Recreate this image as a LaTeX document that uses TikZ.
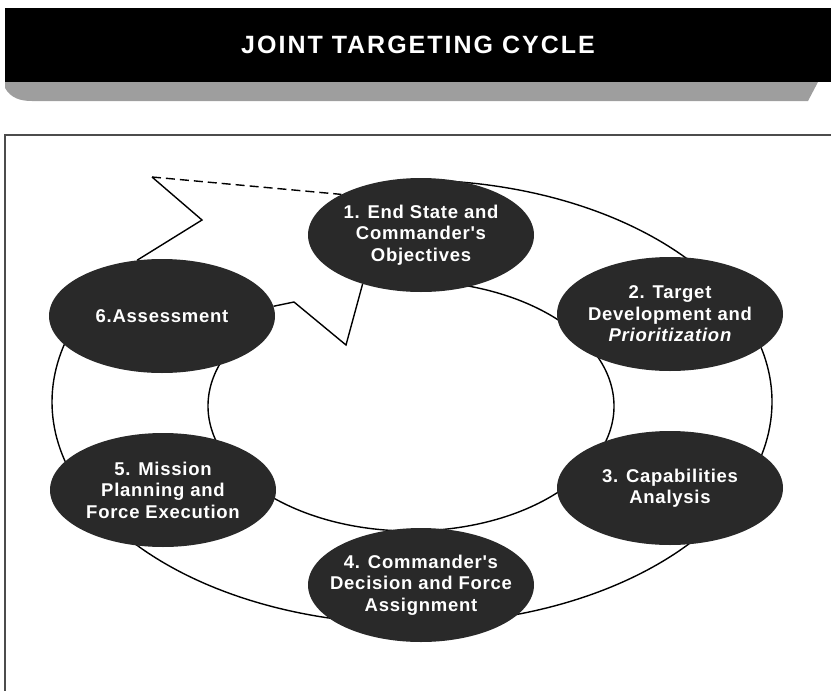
\documentclass[tikz,border=0pt]{standalone}
\usepackage{fontspec}
\setmainfont{Liberation Sans}
\newfontfamily\stagefont{Liberation Sans}[LetterSpace=4.0]
\newfontfamily\titlefont{Liberation Sans}[LetterSpace=8.0]
\usetikzlibrary{shapes.geometric}

\tikzset{
    stage/.style = {
        ellipse,
        fill = black!84,
        text = white,
        font = \stagefont\bfseries\fontsize{18.5}{21.5}\selectfont,
        align = center,
        minimum width = 226pt,
        minimum height = 114pt,
        inner sep = -12pt
    },
    ring/.style = {line width=1.4pt},
    frame/.style = {line width=1.6pt, draw=black!70}
}

\begin{document}
\begin{tikzpicture}[x=1pt, y=-1pt]
    \useasboundingbox (0,0) rectangle (831,691);

    % title bar
    \fill[black] (5,8) rectangle (831,82);
    \fill[black!38] (5,82) -- (818,82) -- (808,101) -- (32,101) to[out=180,in=-60] (5,88) -- cycle;
    \node[text=white, font=\titlefont\bfseries\fontsize{25}{30}\selectfont] (title) at (418,45) {JOINT TARGETING CYCLE};

    % frame
    \draw[frame] (5,691) -- (5,135) -- (831,135);

    % the two rings (the gap between 6 and 1 is left open)
    \coordinate (outer) at (412,402);
    \coordinate (inner) at (411,406);
    \draw[ring] (outer) ++(85:360pt and 222pt) arc[start angle=85, end angle=-200, x radius=360pt, y radius=222pt];
    \draw[ring] (inner) ++(95:203pt and 125pt) arc[start angle=95, end angle=-220, x radius=203pt, y radius=125pt];

    % stages
    \node[stage] (objectives) at (421,235) {1. End State and\\Commander's\\Objectives};
    \node[stage] (targets)    at (670,314) {2. Target\\Development and\\{\itshape Prioritization}};
    \node[stage] (capab)      at (670,488) {3. Capabilities\\Analysis};
    \node[stage] (decision)   at (421,585) {4. Commander's\\Decision and Force\\Assignment};
    \node[stage] (mission)    at (163,490) {5. Mission\\Planning and\\Force Execution};
    \node[stage] (assess)     at (162,316) {6.Assessment};

    % arrow head from 6 back into 1
    \coordinate (barbA) at (152,177);
    \coordinate (kinkA) at (202,220);
    \coordinate (kinkB) at (294,302);
    \coordinate (barbB) at (346,345);
    \draw[ring, dash pattern=on 9pt off 5pt] (barbA) -- (objectives.153);
    \draw[ring] (assess.114) -- (kinkA) -- (barbA);
    \draw[ring] (assess.5) -- (kinkB) -- (barbB) -- (objectives.220);
\end{tikzpicture}
\end{document}
